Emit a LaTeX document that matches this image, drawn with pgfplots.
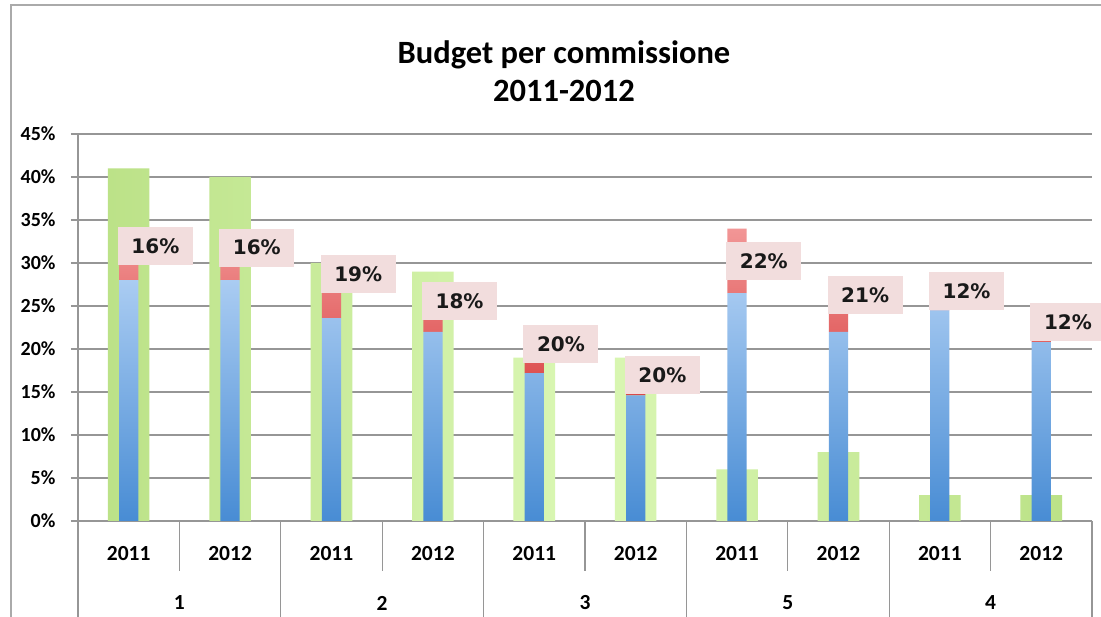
\documentclass[border=0pt]{standalone}
\usepackage{pgfplots}
\pgfplotsset{compat=1.18}
\usepackage{fontspec}
\setmainfont{Carlito}
\newfontfamily\dejavu{DejaVu Sans}

\definecolor{gridgray}{RGB}{150,150,150}
\definecolor{bordergray}{RGB}{170,170,170}
\definecolor{greenE}{RGB}{188,226,136}
\definecolor{greenC}{RGB}{218,247,180}
\definecolor{blueT}{RGB}{170,204,242}
\definecolor{blueB}{RGB}{72,140,212}
\definecolor{redT}{RGB}{242,150,150}
\definecolor{redB}{RGB}{218,72,72}
\definecolor{labelpink}{RGB}{242,221,221}

\pgfplotsset{
  base/.style={
    width=1014pt, height=387pt, scale only axis,
    at={(78pt,96pt)}, anchor=south west,
    xmin=-0.5, xmax=9.5, ymin=0, ymax=45,
  },
  overlay/.style={base, hide axis, axis lines=none, ticks=none},
}

\begin{document}
\begin{tikzpicture}[x=1pt,y=1pt]
\useasboundingbox (0,0) rectangle (1101,617);
\fill[white] (0,0) rectangle (1101,617);
\draw[bordergray, line width=1.5pt] (11,-2) -- (11,612) -- (1103,612);
\node[font=\fontsize{32.5}{38}\selectfont\bfseries, align=center] at (564,546) {Budget per commissione\\2011-2012};

% green background bars, grid and category axis
\begin{axis}[base,
    axis lines=left,
    axis line style={-, gridgray, line width=1.3pt},
    ymajorgrids, grid style={gridgray, line width=1.3pt},
    ytick={0,5,10,15,20,25,30,35,40,45},
    yticklabels={0\%,5\%,10\%,15\%,20\%,25\%,30\%,35\%,40\%,45\%},
    ytick style={gridgray, line width=1.3pt},
    yticklabel style={font=\bfseries\fontsize{20}{20}\selectfont, xshift=-12pt},
    tick align=outside, major tick length=7pt,
    xtick={0,1,2,3,4,5,6,7,8,9},
    xticklabels={2011,2012,2011,2012,2011,2012,2011,2012,2011,2012},
    xtick style={draw=none},
    xticklabel style={font=\bfseries\fontsize{21.5}{21.5}\selectfont, yshift=-15pt},
    clip=false,
  ]
  \addplot[ybar, bar width=0.41, bar shift=0pt, draw=none,
    left color=greenE, right color=greenE, middle color=greenC]
    coordinates {(0,41) (1,40) (2,30) (3,29) (4,19) (5,19) (6,6) (7,8) (8,3) (9,3)};
  % separators of the two-level category axis
  \pgfplotsinvokeforeach{-0.5,1.5,3.5,5.5,7.5,9.5}{
    \draw[gridgray, line width=1.3pt] (axis cs:#1,0) -- ++(0pt,-96pt);}
  \pgfplotsinvokeforeach{0.5,2.5,4.5,6.5,8.5}{
    \draw[gridgray, line width=1.3pt] (axis cs:#1,0) -- ++(0pt,-50pt);}
  \node[font=\bfseries\fontsize{21.5}{21.5}\selectfont] at (axis cs:0.5,0) [yshift=-82pt] {1};
  \node[font=\bfseries\fontsize{21.5}{21.5}\selectfont] at (axis cs:2.5,0) [yshift=-82pt] {2};
  \node[font=\bfseries\fontsize{21.5}{21.5}\selectfont] at (axis cs:4.5,0) [yshift=-82pt] {3};
  \node[font=\bfseries\fontsize{21.5}{21.5}\selectfont] at (axis cs:6.5,0) [yshift=-82pt] {5};
  \node[font=\bfseries\fontsize{21.5}{21.5}\selectfont] at (axis cs:8.5,0) [yshift=-82pt] {4};
\end{axis}

% blue + red stacked bars
\begin{axis}[overlay, ybar stacked, bar width=0.19]
  \addplot[draw=none, top color=blueT, bottom color=blueB]
    coordinates {(0,28) (1,28) (2,23.6) (3,22) (4,17.2) (5,14.6) (6,26.5) (7,22) (8,24.5) (9,20.8)};
  \addplot[draw=none, top color=redT, bottom color=redB]
    coordinates {(0,5.3) (1,5.3) (2,5.5) (3,4.8) (4,4.3) (5,3.9) (6,7.5) (7,5.8) (8,3.3) (9,2.8)};
\end{axis}

% data labels
\begin{axis}[overlay, clip=false]
  \addplot[draw=none, nodes near coords, point meta=explicit symbolic,
    nodes near coords style={anchor=west, xshift=-11pt, fill=labelpink,
      minimum width=75pt, minimum height=38pt, inner sep=0pt,
      font=\dejavu\bfseries\fontsize{20}{20}\selectfont, text={rgb,255:red,25;green,25;blue,25}}]
    coordinates {(0,32.0) [16\%] (1,31.8) [16\%] (2,28.7) [19\%] (3,25.6) [18\%]
                 (4,20.6) [20\%] (5,17.0) [20\%] (6,30.2) [22\%] (7,26.3) [21\%]
                 (8,26.7) [12\%] (9,23.1) [12\%]};
\end{axis}
\end{tikzpicture}
\end{document}
